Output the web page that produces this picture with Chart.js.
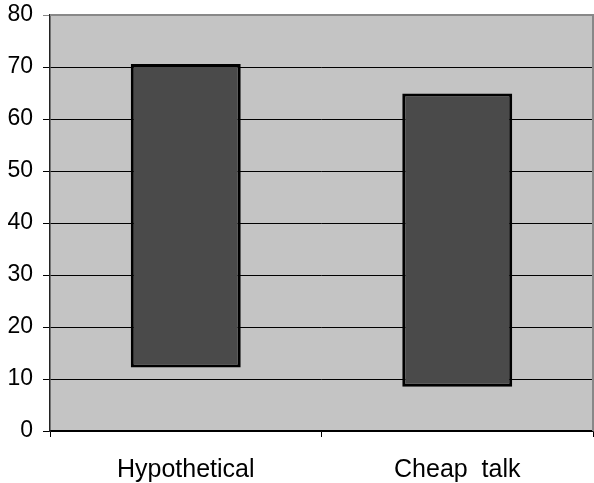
<!DOCTYPE html>
<html>
<head>
<meta charset="utf-8">
<script src="https://cdn.jsdelivr.net/npm/chart.js@4/dist/chart.umd.min.js"></script>
<style>
html,body{margin:0;padding:0;background:#fff;}
#wrap{width:594px;height:483px;}
</style>
</head>
<body>
<div id="wrap"><canvas id="c" width="594" height="483"></canvas></div>
<script>
const categories = ["Hypothetical", "Cheap  talk"];
const lowValues = [12.2, 8.5];
const highValues = [70.6, 64.9];
const yTicks = [0, 10, 20, 30, 40, 50, 60, 70, 80];

const plotBg = {
  id: 'plotBg',
  beforeDraw(chart) {
    const {ctx, chartArea: a} = chart;
    ctx.save();
    ctx.fillStyle = '#c4c4c4';
    ctx.fillRect(a.left, a.top, a.right - a.left, a.bottom - a.top);
    ctx.restore();
  },
  afterDatasetsDraw(chart) {
    const {ctx, chartArea: a} = chart;
    ctx.save();
    ctx.strokeStyle = '#888888';
    ctx.lineWidth = 2;
    ctx.beginPath();
    ctx.moveTo(a.left, a.top);
    ctx.lineTo(a.right, a.top);
    ctx.lineTo(a.right, a.bottom);
    ctx.stroke();
    ctx.restore();
  }
};

new Chart(document.getElementById('c'), {
  type: 'bar',
  data: {
    labels: categories,
    datasets: [{
      data: categories.map((c, i) => [lowValues[i], highValues[i]]),
      backgroundColor: '#4a4a4a',
      borderColor: '#000000',
      borderWidth: 3,
      borderSkipped: false,
      categoryPercentage: 1.0,
      barPercentage: 0.405
    }]
  },
  options: {
    responsive: false,
    animation: false,
    devicePixelRatio: 1,
    layout: { padding: { top: 15, right: 1, left: 0, bottom: 0 } },
    plugins: { legend: { display: false }, tooltip: { enabled: false } },
    scales: {
      x: {
        offset: true,
        grid: { offset: true, drawOnChartArea: false, drawTicks: true, tickLength: 6, color: '#000', lineWidth: 1 },
        border: { display: true, color: '#000', width: 1.5 },
        ticks: { color: '#000', font: { family: 'Liberation Sans, Arial, sans-serif', size: 25 }, padding: 18, maxRotation: 0 },
        afterFit(s) { s.height = 52; s.paddingLeft = 0; s.paddingRight = 0; }
      },
      y: {
        min: 0, max: 80,
        afterBuildTicks(s) { s.ticks = yTicks.map(v => ({ value: v })); },
        grid: {
          color: (c) => (c.tick && c.tick.value === 80) ? '#888888' : '#000000',
          lineWidth: 1,
          tickLength: 7,
          drawTicks: true
        },
        border: { display: true, color: '#222', width: 1.5 },
        ticks: { color: '#000', font: { family: 'Liberation Sans, Arial, sans-serif', size: 23 }, padding: 10 },
        afterFit(s) { s.width = 50; s.paddingTop = 0; s.paddingBottom = 0; }
      }
    }
  },
  plugins: [plotBg]
});
</script>
</body>
</html>
